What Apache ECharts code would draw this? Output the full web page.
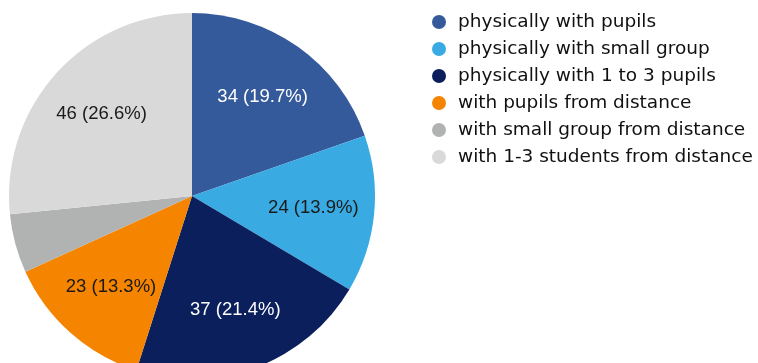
<!DOCTYPE html>
<html>
<head>
<meta charset="utf-8">
<script src="https://cdn.jsdelivr.net/npm/echarts@6/dist/echarts.min.js"></script>
<style>
html, body { margin: 0; padding: 0; background: #fff; }
#chart { width: 758px; height: 363px; }
</style>
</head>
<body>
<div id="chart"></div>
<script>
// Teaching modes and the number of answers for each
const categories = [
  'physically with pupils',
  'physically with small group',
  'physically with 1 to 3 pupils',
  'with pupils from distance',
  'with small group from distance',
  'with 1-3 students from distance'
];
const counts = [34, 24, 37, 23, 9, 46];
const colors = ['#355a9b', '#3aabe2', '#0a1f5c', '#f58400', '#b1b3b3', '#d9d9d9'];
const labelColors = ['#ffffff', '#1a1a1a', '#ffffff', '#1a1a1a', '#1a1a1a', '#1a1a1a'];
const showLabel = [true, true, true, true, false, true];

const total = counts.reduce((a, b) => a + b, 0);
const center = [192, 196];
const R = 183;

const sliceData = categories.map((name, i) => ({
  name, value: counts[i], itemStyle: { color: colors[i] }
}));

// labels sit on a transparent ring so they land further out than mid-radius
const labelData = categories.map((name, i) => ({
  name, value: counts[i],
  itemStyle: { color: 'rgba(0,0,0,0)' },
  label: { show: showLabel[i], color: labelColors[i] }
}));

const chart = echarts.init(document.getElementById('chart'), null, { renderer: 'canvas' });
chart.setOption({
  animation: false,
  legend: {
    orient: 'vertical',
    left: 427,
    top: 7,
    icon: 'circle',
    itemWidth: 14,
    itemHeight: 14,
    itemGap: 7,
    data: categories,
    textStyle: {
      fontFamily: 'DejaVu Sans',
      fontSize: 18.5,
      color: '#111',
      lineHeight: 20,
      padding: [0, 0, 0, 7]
    }
  },
  series: [
    {
      type: 'pie',
      center: center,
      radius: [0, R],
      startAngle: 90,
      clockwise: true,
      silent: true,
      label: { show: false },
      labelLine: { show: false },
      itemStyle: { borderWidth: 0 },
      data: sliceData
    },
    {
      type: 'pie',
      center: center,
      radius: [R * 0.3, R],
      startAngle: 90,
      clockwise: true,
      silent: true,
      legendHoverLink: false,
      label: {
        position: 'inside',
        fontFamily: 'Liberation Sans',
        fontSize: 18.5,
        formatter: p => p.value + ' (' + (p.value / total * 100).toFixed(1) + '%)'
      },
      labelLine: { show: false },
      data: labelData
    }
  ]
});
</script>
</body>
</html>
